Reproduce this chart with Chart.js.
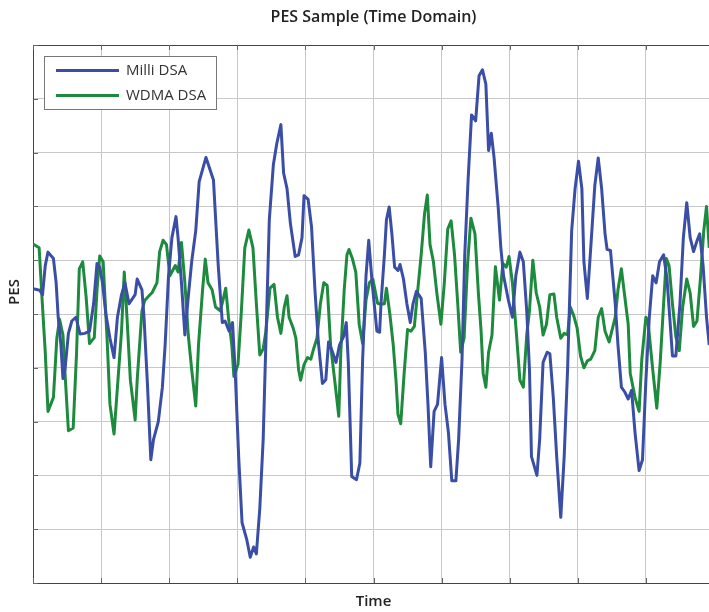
<!DOCTYPE html>
<html>
<head>
<meta charset="utf-8">
<script src="https://cdn.jsdelivr.net/npm/chart.js@4.4.1/dist/chart.umd.min.js"></script>
<style>
  html, body { margin: 0; padding: 0; overflow: hidden; background: #ffffff; }
  #wrap { width: 709px; height: 612px; overflow: hidden; }
  canvas { display: block; }
</style>
</head>
<body>
<div id="wrap"><canvas id="c" width="714" height="612"></canvas></div>
<script>
const chartTitle = 'PES Sample (Time Domain)';
const xAxisLabel = 'Time';
const yAxisLabel = 'PES';
const seriesNames = ['Milli DSA', 'WDMA DSA'];

const milliTime = [0.00,0.10,0.14,0.18,0.22,0.30,0.34,0.37,0.41,0.44,
0.47,0.52,0.57,0.63,0.69,0.76,0.83,0.89,0.94,0.98,
1.02,1.07,1.13,1.19,1.24,1.30,1.35,1.41,1.50,1.53,
1.60,1.63,1.68,1.73,1.77,1.84,1.90,1.94,1.99,2.04,
2.10,2.13,2.18,2.23,2.28,2.33,2.39,2.44,2.54,2.65,
2.72,2.78,2.82,2.88,2.93,2.97,3.02,3.07,3.14,3.19,
3.24,3.28,3.33,3.38,3.43,3.47,3.53,3.58,3.64,3.68,
3.73,3.78,3.85,3.90,3.95,3.98,4.04,4.09,4.14,4.19,
4.25,4.30,4.34,4.39,4.45,4.50,4.56,4.60,4.63,4.68,
4.75,4.80,4.84,4.89,4.93,4.98,5.05,5.09,5.11,5.16,
5.19,5.23,5.27,5.31,5.36,5.39,5.44,5.49,5.54,5.58,
5.63,5.70,5.76,5.80,5.84,5.89,5.94,6.00,6.05,6.10,
6.15,6.21,6.25,6.30,6.34,6.39,6.44,6.50,6.55,6.60,
6.65,6.69,6.73,6.77,6.83,6.87,6.91,6.98,7.04,7.09,
7.15,7.20,7.25,7.29,7.32,7.40,7.44,7.49,7.55,7.59,
7.64,7.69,7.75,7.80,7.85,7.91,7.96,8.01,8.06,8.09,
8.14,8.19,8.25,8.30,8.35,8.40,8.43,8.48,8.55,8.59,
8.64,8.69,8.74,8.79,8.84,8.90,8.95,9.00,9.05,9.10,
9.15,9.20,9.26,9.31,9.35,9.39,9.44,9.50,9.55,9.60,
9.65,9.70,9.75,9.79,9.84,9.89,9.93];

const milliValues = [0.47,0.44,0.36,0.9,1.15,1.03,0.58,-0.06,-0.58,-1.2,
-1.03,-0.36,-0.13,-0.06,-0.37,-0.36,-0.32,0.19,0.94,0.87,
0.58,0,-0.45,-0.81,-0.06,0.36,0.58,0.19,0.36,0.65,
0.45,-0.06,-1.29,-2.71,-2.33,-2.0,-1.36,-0.58,0.71,1.42,
1.81,1.42,0.58,-0.39,0.32,0.97,1.55,2.46,2.91,2.49,
0.9,-0.16,-0.13,-0.32,-0.16,-1.1,-2.65,-3.88,-4.2,-4.52,
-4.33,-4.46,-3.62,-2.33,-0.06,1.75,2.78,3.17,3.52,2.62,
2.33,1.68,1.07,1.1,1.42,2.2,2.13,1.62,0.45,-0.52,
-1.29,-1.22,-0.52,-0.68,-0.9,-0.58,-0.42,-0.16,-0.9,-3.02,
-3.08,-2.77,-0.86,0.71,1.37,0.58,-0.32,-0.34,0.19,1.1,
1.75,1.99,1.49,0.87,0.81,0.92,0.65,0.19,-0.16,0.19,
0.42,0.29,-0.71,-1.68,-2.84,-1.81,-1.68,-0.81,-1.68,-2.2,
-3.1,-3.1,-2.33,-0.84,1.1,2.52,3.7,3.59,4.43,4.54,
4.27,3.04,3.36,2.91,2.0,1.23,0.71,0.26,-0.06,0.71,
1.15,0.97,0.06,-1.03,-2.65,-3.0,-2.33,-0.9,-0.71,-0.74,
-1.55,-2.65,-3.78,-2.65,-1.03,1.55,2.33,2.84,2.33,0.97,
0.29,1.23,2.39,2.9,2.33,1.49,1.2,1.18,0.19,-0.58,
-1.36,-1.45,-1.58,-1.42,-2.2,-2.91,-2.71,-1.23,-0.06,0.71,
0.58,0.97,1.1,0.65,-0.06,-0.78,-0.78,0.19,1.42,2.07,
1.42,1.16,1.36,1.49,0.9,-0.06,-0.58];

const wdmaTime = [0.00,0.09,0.14,0.18,0.22,0.30,0.35,0.39,0.44,0.47,
0.52,0.59,0.64,0.68,0.73,0.78,0.83,0.90,0.94,0.98,
1.03,1.09,1.13,1.19,1.24,1.30,1.34,1.38,1.43,1.50,
1.53,1.60,1.64,1.69,1.75,1.82,1.86,1.91,1.96,2.01,
2.09,2.13,2.18,2.23,2.28,2.33,2.39,2.43,2.49,2.53,
2.57,2.63,2.68,2.75,2.79,2.83,2.87,2.92,2.95,3.01,
3.06,3.11,3.17,3.23,3.28,3.33,3.38,3.42,3.48,3.54,
3.59,3.64,3.69,3.73,3.76,3.82,3.86,3.90,3.93,3.98,
4.03,4.08,4.12,4.17,4.22,4.27,4.32,4.37,4.43,4.49,
4.52,4.57,4.61,4.64,4.69,4.74,4.79,4.84,4.89,4.94,
4.99,5.06,5.11,5.16,5.19,5.24,5.29,5.33,5.36,5.40,
5.45,5.50,5.55,5.60,5.65,5.70,5.75,5.79,5.83,5.88,
5.93,5.99,6.04,6.09,6.14,6.19,6.24,6.28,6.33,6.38,
6.43,6.49,6.54,6.58,6.61,6.65,6.69,6.74,6.79,6.85,
6.90,6.95,6.99,7.04,7.10,7.15,7.20,7.25,7.29,7.34,
7.39,7.44,7.49,7.54,7.59,7.65,7.69,7.75,7.80,7.85,
7.89,7.94,7.99,8.04,8.09,8.14,8.19,8.25,8.30,8.35,
8.40,8.46,8.55,8.59,8.64,8.69,8.74,8.77,8.84,8.90,
8.94,9.00,9.03,9.10,9.16,9.21,9.26,9.30,9.34,9.39,
9.44,9.49,9.54,9.60,9.65,9.70,9.75,9.80,9.85,9.89,
9.93];

const wdmaValues = [1.3,1.23,0.13,-0.71,-1.81,-1.55,-0.45,-0.1,-0.39,-1.1,
-2.17,-2.12,-0.71,0.84,0.97,0.32,-0.55,-0.44,0.45,1.08,
0.97,-0.52,-1.68,-2.23,-1.36,-0.32,0.78,-0.06,-1.23,-1.97,
-1.23,0.06,0.25,0.32,0.4,0.58,1.16,1.37,1.29,0.71,
0.9,0.78,1.33,0.58,-0.39,-1.03,-1.71,-0.58,0.45,1.02,
0.58,0.45,0.13,0.06,0.26,0.48,-0.06,-0.58,-1.16,-0.94,
0.06,1.23,1.56,1.23,0.19,-0.76,-0.65,-0.32,0.48,0.55,
-0.06,-0.36,0.13,0.34,-0.06,-0.26,-0.45,-1.03,-1.23,-0.94,
-0.81,-0.84,-0.65,-0.45,0.19,0.58,0.53,-0.58,-1.23,-1.9,
-0.71,0.45,1.1,1.2,1.03,0.78,-0.19,-0.55,0.26,0.58,
0.65,0.2,0.18,0.19,0.48,0,-0.58,-1.23,-1.87,-2.04,
-1.1,-0.29,-0.32,-0.23,0.45,1.1,1.87,2.21,1.29,0.97,
0.39,-0.19,0.58,1.58,1.73,1.1,0.13,-0.71,-0.45,0.9,
1.78,1.49,0.39,-0.32,-1.1,-1.36,-0.71,-0.39,0.88,0.26,
0.94,0.87,1.07,0.58,-0.39,-1.23,-1.36,-0.39,0.06,1.0,
0.39,0.13,-0.39,-0.19,0.36,0.37,-0.06,-0.45,-0.36,-0.39,
0.13,-0.03,-0.26,-0.78,-1.0,-0.87,-0.84,-0.68,-0.06,0.1,
-0.32,-0.52,-0.06,0.45,0.84,0.32,-0.19,-1.1,-1.55,-1.81,
-0.84,-0.06,-0.13,-1.03,-1.75,-0.9,0.19,1.03,0.9,0.19,
-0.42,-0.68,0.13,0.65,0.39,-0.23,-0.13,0.65,1.55,2.0,
1.23];

const seriesColors = ['#3a4ea6', '#1d8a3d'];

function pairs(ts, vs) { return ts.map((t, i) => ({ x: t, y: vs[i] })); }

const decor = {
  id: 'decor',
  beforeDatasetsDraw(chart) {
    const { ctx, chartArea: a, scales: { x, y } } = chart;
    ctx.save();
    ctx.strokeStyle = '#444';
    ctx.lineWidth = 1;
    ctx.beginPath();
    ctx.moveTo(a.left, a.top + 0.5);
    ctx.lineTo(a.right, a.top + 0.5);
    ctx.stroke();
    ctx.strokeStyle = '#666';
    ctx.beginPath();
    x.ticks.forEach(t => {
      const px = Math.round(x.getPixelForValue(t.value)) + 0.5;
      ctx.moveTo(px, a.bottom); ctx.lineTo(px, a.bottom - 5);
      ctx.moveTo(px, a.top); ctx.lineTo(px, a.top + 5);
    });
    y.ticks.forEach(t => {
      const py = Math.round(y.getPixelForValue(t.value)) + 0.5;
      ctx.moveTo(a.left, py); ctx.lineTo(a.left + 5, py);
    });
    ctx.stroke();
    ctx.restore();
  },
  afterDatasetsDraw(chart) {
    const { ctx } = chart;
    ctx.save();
    // legend box
    ctx.fillStyle = '#ffffff';
    ctx.fillRect(44.5, 56.5, 172, 53);
    ctx.strokeStyle = '#777';
    ctx.lineWidth = 1;
    ctx.strokeRect(44.5, 56.5, 172, 53);
    chart.data.datasets.forEach((ds, i) => {
      const yy = 70.5 + i * 25;
      ctx.strokeStyle = ds.borderColor;
      ctx.lineWidth = 3;
      ctx.beginPath();
      ctx.moveTo(56, yy); ctx.lineTo(119, yy);
      ctx.stroke();
      ctx.fillStyle = '#333';
      ctx.font = '15px "Open Sans"';
      ctx.textBaseline = 'middle';
      ctx.textAlign = 'left';
      ctx.fillText(ds.label, 126, yy);
    });
    // y axis label
    ctx.translate(15, 292);
    ctx.rotate(-Math.PI / 2);
    ctx.fillStyle = '#222';
    ctx.font = '600 15px "Open Sans"';
    ctx.textAlign = 'center';
    ctx.textBaseline = 'middle';
    ctx.fillText(yAxisLabel, 0, 0);
    ctx.restore();
  }
};

new Chart(document.getElementById('c'), {
  type: 'line',
  data: {
    datasets: [
      { label: seriesNames[0], data: pairs(milliTime, milliValues), borderColor: seriesColors[0], backgroundColor: seriesColors[0], borderWidth: 3, pointRadius: 0, tension: 0, borderJoinStyle: 'round', fill: false },
      { label: seriesNames[1], data: pairs(wdmaTime, wdmaValues), borderColor: seriesColors[1], backgroundColor: seriesColors[1], borderWidth: 3, pointRadius: 0, tension: 0, borderJoinStyle: 'round', fill: false }
    ]
  },
  options: {
    responsive: false,
    animation: false,
    devicePixelRatio: 1,
    layout: { padding: { left: 33, right: 0, top: 0, bottom: 0 } },
    plugins: {
      legend: { display: false },
      tooltip: { enabled: false },
      title: {
        display: true, text: chartTitle, fullSize: false, color: '#222',
        font: { family: '"Open Sans"', size: 16, weight: '600', lineHeight: 1.2 },
        padding: { top: 7.4, bottom: 18.4 }
      }
    },
    scales: {
      x: {
        type: 'linear', min: 0, max: 10,
        ticks: { display: false, stepSize: 1 },
        grid: { color: '#c8c8c8', lineWidth: 1, drawTicks: false },
        border: { display: true, color: '#444', width: 1 },
        title: { display: true, text: xAxisLabel, color: '#222',
          font: { family: '"Open Sans"', size: 15, weight: '600', lineHeight: 1.2 },
          padding: { top: 10, bottom: 1 } }
      },
      y: {
        type: 'linear', min: -5, max: 5,
        ticks: { display: false, stepSize: 1 },
        grid: { color: '#c8c8c8', lineWidth: 1, drawTicks: false },
        border: { display: true, color: '#444', width: 1 }
      }
    }
  },
  plugins: [decor]
});
</script>
</body>
</html>
